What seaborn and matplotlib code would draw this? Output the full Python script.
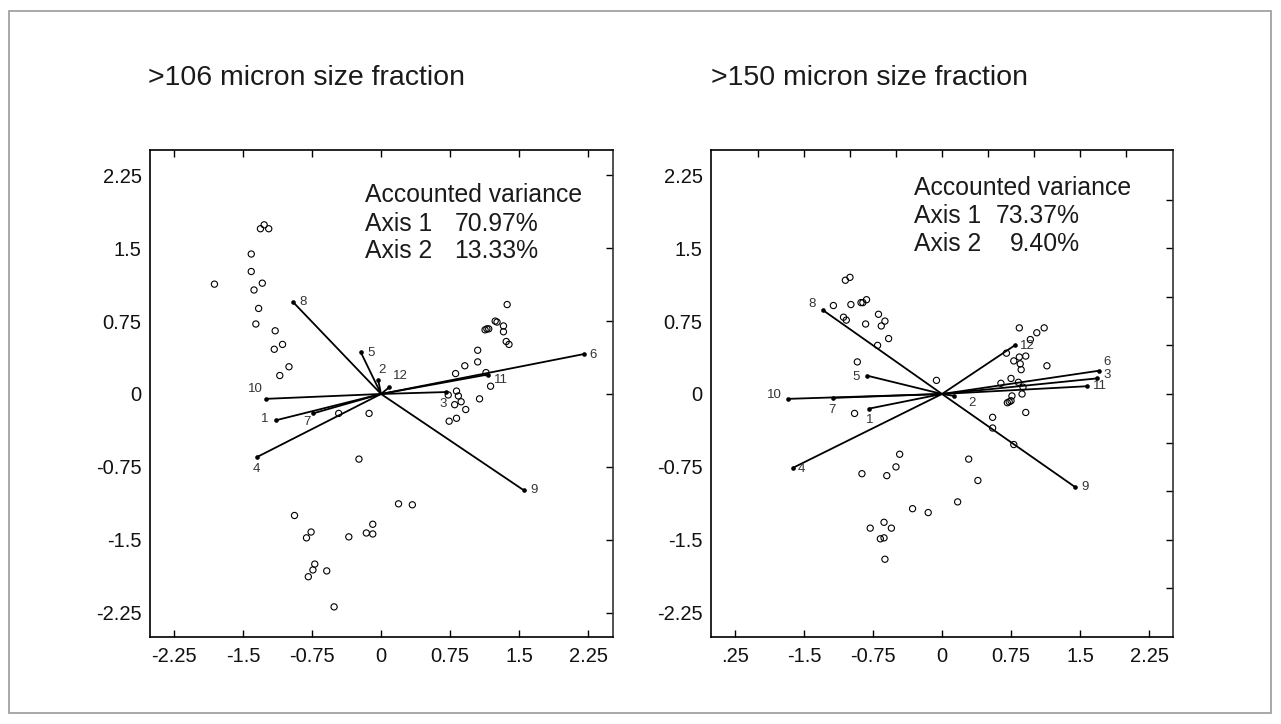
import numpy as np
import pandas as pd
import matplotlib
matplotlib.use("Agg")
import matplotlib.pyplot as plt
import seaborn as sns
from matplotlib.patches import Rectangle

# ---------------- data ----------------
titles = [">106 micron size fraction", ">150 micron size fraction"]
var_axis1 = ["70.97%", "73.37%"]
var_axis2 = ["13.33%", "9.40%"]
vec_labels = ["1", "2", "3", "4", "5", "6", "7", "8", "9", "10", "11", "12"]

left_pts_x = [-1.81, -1.31, -1.27, -1.22, -1.41, -1.41, -1.29, -1.38, -1.33, -1.36, -1.15, -1.16, -1.07, -1.00, -1.10,
              -0.46, -0.13, -0.24, -0.94, -0.76, -0.81, -0.35, -0.16, -0.09, -0.09, -0.72, -0.74, -0.79, -0.59, -0.51,
              0.19, 0.34,
              0.73, 0.82, 0.84, 0.80, 0.87, 0.92, 0.74, 0.82, 1.07, 1.19,
              1.37, 1.24, 1.26, 1.33, 1.33, 1.13, 1.15, 1.17, 1.36, 1.39, 1.05, 1.05, 0.91, 0.81, 1.14]
left_pts_y = [1.13, 1.70, 1.74, 1.70, 1.44, 1.26, 1.14, 1.07, 0.88, 0.72, 0.65, 0.46, 0.51, 0.28, 0.19,
              -0.20, -0.20, -0.67, -1.25, -1.42, -1.48, -1.47, -1.43, -1.44, -1.34, -1.75, -1.81, -1.88, -1.82, -2.19,
              -1.13, -1.14,
              -0.01, 0.03, -0.02, -0.11, -0.08, -0.16, -0.28, -0.25, -0.05, 0.08,
              0.92, 0.75, 0.74, 0.70, 0.64, 0.66, 0.67, 0.67, 0.54, 0.51, 0.45, 0.33, 0.29, 0.21, 0.22]

right_pts_x = [-1.05, -1.00, -1.18, -0.99, -0.88, -0.86, -0.82, -1.07, -1.04, -0.69, -0.62, -0.66, -0.83, -0.58, -0.70,
               -0.92, -0.06,
               -0.95, -0.46, -0.50, -0.87, -0.60, -0.32, -0.15, -0.63, -0.78, -0.55, -0.67, -0.63, -0.62,
               0.84, 1.03, 1.11, 0.96, 0.70, 0.84, 0.91, 0.78, 0.85, 0.86, 1.14, 0.75, 0.64, 0.83, 0.88,
               0.76, 0.87, 0.71, 0.73, 0.75, 0.91, 0.55, 0.55, 0.78, 0.29, 0.39, 0.17]
right_pts_y = [1.17, 1.20, 0.91, 0.92, 0.94, 0.94, 0.97, 0.79, 0.76, 0.82, 0.75, 0.70, 0.72, 0.57, 0.50,
               0.33, 0.14,
               -0.20, -0.62, -0.75, -0.82, -0.84, -1.18, -1.22, -1.32, -1.38, -1.38, -1.49, -1.48, -1.70,
               0.68, 0.63, 0.68, 0.56, 0.42, 0.38, 0.39, 0.34, 0.31, 0.25, 0.29, 0.16, 0.11, 0.12, 0.07,
               -0.02, 0.00, -0.09, -0.08, -0.07, -0.19, -0.24, -0.35, -0.52, -0.67, -0.89, -1.11]

left_vec_x = [-1.14, -0.03, 0.71, -1.35, -0.22, 2.20, -0.74, -0.96, 1.55, -1.25, 1.16, 0.09]
left_vec_y = [-0.27, 0.14, 0.02, -0.65, 0.43, 0.41, -0.20, 0.95, -0.99, -0.05, 0.20, 0.07]
right_vec_x = [-0.79, 0.13, 1.68, -1.62, -0.82, 1.71, -1.18, -1.29, 1.45, -1.67, 1.58, 0.79]
right_vec_y = [-0.15, -0.02, 0.16, -0.76, 0.19, 0.24, -0.04, 0.86, -0.96, -0.05, 0.08, 0.50]

bottom_ticks = [-2.25, -1.5, -0.75, 0, 0.75, 1.5, 2.25]
left_xlabels = ["-2.25", "-1.5", "-0.75", "0", "0.75", "1.5", "2.25"]
right_xlabels = [".25", "-1.5", "-0.75", "0", "0.75", "1.5", "2.25"]
y_ticks = [2.25, 1.5, 0.75, 0, -0.75, -1.5, -2.25]
y_labels = ["2.25", "1.5", "0.75", "0", "-0.75", "-1.5", "-2.25"]
left_top_ticks = [-2.25, -1.5, -0.75, 0, 0.75, 1.5, 2.25]
right_top_ticks = [-2, -1.5, -1, -0.5, 0, 0.5, 1, 1.5, 2]
left_right_ticks = [2.25, 1.5, 0.75, 0, -0.75, -1.5, -2.25]
right_right_ticks = [2, 1.5, 1, 0.5, 0, -0.5, -1, -1.5, -2]

# label offsets (pixels: dx right, dy down) -- styling only
left_offs = [(-11, -1), (4, -10), (-3, 12), (0, 12), (10, 1), (10, 1), (-6, 9), (10, 0), (10, 0), (-11, -10), (13, 5), (11, -11)]
right_offs = [(0, 11), (18, 7), (11, -3), (8, 1), (-10, 1), (8, -9), (-1, 12), (-11, -6), (10, 0), (-14, -4), (13, 0), (13, 1)]

# ---------------- style ----------------
sns.set_theme(style="white")
plt.rcParams["font.family"] = ["Liberation Sans", "DejaVu Sans"]

W, H = 1281, 724
fig = plt.figure(figsize=(W / 100, H / 100), dpi=100)
fig.patch.set_facecolor("white")


def axrect(l, t, r, b):
    return [l / W, 1 - b / H, (r - l) / W, (b - t) / H]


ax1 = fig.add_axes(axrect(150, 150, 613, 637))
ax2 = fig.add_axes(axrect(711, 150, 1173, 637))


def draw(ax, px, py, vx, vy, offs, xlim, xlabels, top_ticks, right_ticks, a1, a2, txt_x0, txt_x1, txt_y):
    df = pd.DataFrame({"x": px, "y": py})
    sns.scatterplot(data=df, x="x", y="y", ax=ax, marker="o", s=20,
                    facecolors="none", edgecolor="black", linewidth=0.8, zorder=2)
    for x, y in zip(vx, vy):
        ax.plot([0, x], [0, y], color="black", lw=1.3, solid_capstyle="butt", zorder=3)
    dv = pd.DataFrame({"x": vx, "y": vy})
    sns.scatterplot(data=dv, x="x", y="y", ax=ax, marker="o", s=11, color="black",
                    edgecolor="black", linewidth=0, zorder=4)
    for lab, x, y, (dx, dy) in zip(vec_labels, vx, vy, offs):
        ax.annotate(lab, (x, y), xytext=(dx * 0.72, -dy * 0.72), textcoords="offset points",
                    ha="center", va="center", fontsize=9.5, color="#333333")

    ax.set_xlim(*xlim)
    ax.set_ylim(-2.5, 2.51)
    ax.set_xlabel("")
    ax.set_ylabel("")
    ax.set_xticks(bottom_ticks)
    ax.set_xticklabels(xlabels)
    ax.set_yticks(y_ticks)
    ax.set_yticklabels(y_labels)
    ax.tick_params(axis="x", direction="in", length=5, width=1, color="black",
                   labelsize=14.5, pad=7, labelcolor="#111111", bottom=True)
    ax.tick_params(axis="y", length=0, labelsize=14.5, pad=6, labelcolor="#111111", left=True)
    for sp in ax.spines.values():
        sp.set_visible(True)
        sp.set_color("black")
        sp.set_linewidth(1.2)
    ax.spines["right"].set_color("#333333")

    sx = ax.secondary_xaxis("top")
    sx.set_xticks(top_ticks)
    sx.set_xticklabels([""] * len(top_ticks))
    sx.tick_params(direction="in", length=5, width=1, color="black")
    sy = ax.secondary_yaxis("right")
    sy.set_yticks(right_ticks)
    sy.set_yticklabels([""] * len(right_ticks))
    sy.tick_params(direction="in", length=5, width=1, color="black")
    for s in (sx, sy):
        for sp in s.spines.values():
            sp.set_visible(False)

    fs = 17.8
    ax.text(txt_x0, txt_y[0], "Accounted variance", fontsize=fs, va="baseline", ha="left", color="#1a1a1a")
    ax.text(txt_x0, txt_y[1], "Axis 1", fontsize=fs, va="baseline", ha="left", color="#1a1a1a")
    ax.text(txt_x1, txt_y[1], a1, fontsize=fs, va="baseline", ha="right", color="#1a1a1a")
    ax.text(txt_x0, txt_y[2], "Axis 2", fontsize=fs, va="baseline", ha="left", color="#1a1a1a")
    ax.text(txt_x1, txt_y[2], a2, fontsize=fs, va="baseline", ha="right", color="#1a1a1a")


draw(ax1, left_pts_x, left_pts_y, left_vec_x, left_vec_y, left_offs, (-2.51, 2.52), left_xlabels,
     left_top_ticks, left_right_ticks, var_axis1[0], var_axis2[0], -0.17, 1.71, [1.97, 1.68, 1.40])
draw(ax2, right_pts_x, right_pts_y, right_vec_x, right_vec_y, right_offs, (-2.51, 2.51), right_xlabels,
     right_top_ticks, right_right_ticks, var_axis1[1], var_axis2[1], -0.30, 1.50, [2.05, 1.76, 1.47])

fig.text(148 / W, 1 - 85 / H, titles[0], fontsize=20.5, va="baseline", ha="left", color="#1a1a1a")
fig.text(711 / W, 1 - 85 / H, titles[1], fontsize=20.5, va="baseline", ha="left", color="#1a1a1a")

fig.patches.append(Rectangle((9 / W, 1 - 713 / H), (1271 - 9) / W, (713 - 11) / H,
                             transform=fig.transFigure, fill=False, ec="#9a9a9a", lw=1.2))

fig.savefig("out.png", dpi=100)
